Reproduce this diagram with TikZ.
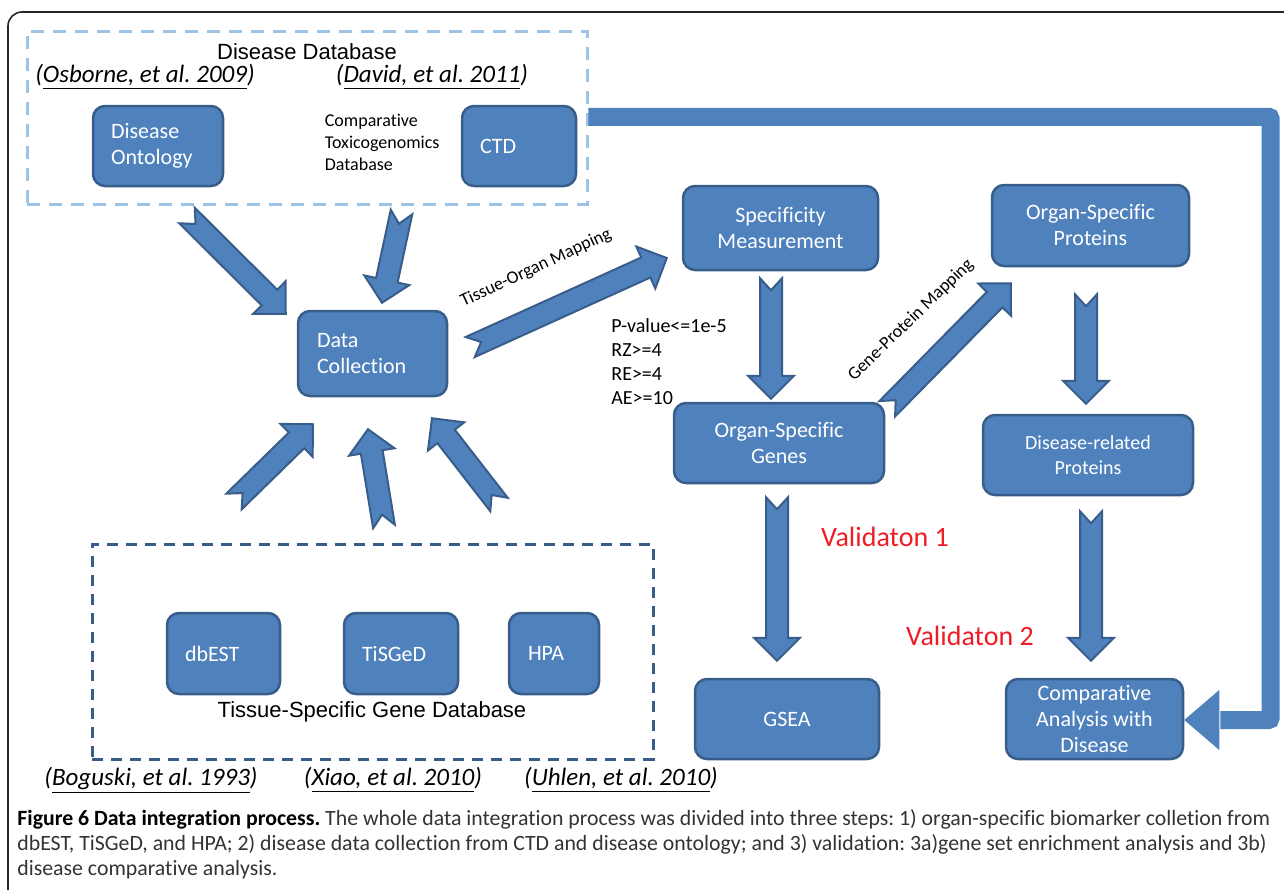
\documentclass[tikz,border=0pt]{standalone}
\usepackage{fontspec}
\setmainfont{Carlito}[Ligatures={NoCommon}]
\newfontfamily\arialfont{Liberation Sans}
\usetikzlibrary{calc,positioning}
\frenchspacing

\definecolor{boxfill}{HTML}{4F81BD}
\definecolor{boxline}{HTML}{385D8A}
\definecolor{lightdash}{HTML}{9DC3E6}
\definecolor{valred}{HTML}{EE1C25}

% notched block arrow from #1 (tail) to #2 (tip)
\newcommand{\fatarrow}[2]{%
	\coordinate (fab) at ($(#2)!11.5pt!(#1)$);
	\coordinate (fan) at ($(#1)!6pt!(#2)$);
	\draw[fatarr] ($(#1)!5.5pt!90:(#2)$) -- ($(fab)!5.5pt!-90:(#1)$)
		-- ($(fab)!11.5pt!-90:(#1)$) -- (#2)
		-- ($(fab)!11.5pt!90:(#1)$) -- ($(fab)!5.5pt!90:(#1)$)
		-- ($(#1)!5.5pt!-90:(#2)$) -- (fan) -- cycle;
}

\begin{document}
\begin{tikzpicture}[
		x=0.5pt,y=-0.5pt,
		box/.style={
			draw=boxline,
			fill=boxfill,
			line width=1.25pt,
			rounded corners=6pt,
			text=white,
			inner sep=0pt,
			font=\fontsize{11}{13}\selectfont
		},
		lbox/.style={box,align=left},
		cbox/.style={box,align=center},
		dbframe/.style={
			line width=1.5pt,
			inner sep=0pt
		},
		cite/.style={
			font=\itshape\fontsize{12.5}{15}\selectfont
		},
		maplabel/.style={
			font=\fontsize{9}{11}\selectfont,
			inner sep=0pt
		},
		valid/.style={
			text=valred,
			font=\fontsize{14}{16}\selectfont
		},
		fatarr/.style={
			draw=boxline,
			fill=boxfill,
			line width=1pt,
			line join=miter
		}
		]
		\useasboundingbox (0,0) rectangle (1284,889);
		\draw[black!85,line width=0.8pt,rounded corners=7pt] (8,12) rectangle (1320,930);

		% disease database
		\node[dbframe,draw=lightdash,dash pattern=on 6.5pt off 4.5pt,minimum width=280pt,minimum height=86.5pt] (ddb) at (307,117.5) {};
		\node[font=\arialfont\fontsize{11}{13}\selectfont] (ddbt) at (307,52) {Disease Database};
		\node[cite] (cosb) at (145,77) {(\underline{Osborne, et al. 2009})};
		\node[cite] (cdav) at (432,77) {(\underline{David, et al. 2011})};
		\node[lbox,minimum width=65pt,minimum height=40pt,text width=47pt] (dont) at (158,146) {Disease\\Ontology};
		\node[anchor=west,align=left,inner sep=0pt,font=\fontsize{9}{11}\selectfont] (ctdname) at (324.5,142.5) {Comparative\\Toxicogenomics\\Database};
		\node[lbox,minimum width=57pt,minimum height=40pt,text width=39pt] (ctd) at (519,146) {CTD};

		% tissue-specific gene database
		\node[dbframe,draw=boxline,dash pattern=on 5.5pt off 4pt,minimum width=280.5pt,minimum height=107.5pt] (tdb) at (372.5,651.5) {};
		\node[lbox,minimum width=56.5pt,minimum height=40.5pt,text width=38.5pt] (dbest) at (223.5,653.5) {dbEST};
		\node[lbox,minimum width=57pt,minimum height=40.5pt,text width=39pt] (tisged) at (401,653.5) {TiSGeD};
		\node[lbox,minimum width=45pt,minimum height=40.5pt,text width=26pt] (hpa) at (554,653.5) {HPA};
		\node[font=\arialfont\fontsize{11}{13}\selectfont] (tdbt) at (372,712) {Tissue-Specific Gene Database};
		\node[cite] (cbog) at (151,780) {(\underline{Boguski, et al. 1993})};
		\node[cite] (cxia) at (393,780) {(\underline{Xiao, et al. 2010})};
		\node[cite] (cuhl) at (621,780) {(\underline{Uhlen, et al. 2010})};

		% process
		\node[lbox,minimum width=74.5pt,minimum height=42.5pt,text width=55.5pt] (dc) at (372.5,353.5) {Data\\Collection};
		\node[cbox,minimum width=97.5pt,minimum height=42pt] (spec) at (780.5,228) {Specificity\\Measurement};
		\node[cbox,minimum width=98.5pt,minimum height=40.5pt] (osp) at (1090.5,225.5) {Organ-Specific\\Proteins};
		\node[cbox,minimum width=105pt,minimum height=40pt] (osg) at (779,443) {Organ-Specific\\Genes};
		\node[cbox,minimum width=105pt,minimum height=40pt,font=\fontsize{10}{12.5}\selectfont] (drp) at (1088,455) {Disease-related\\Proteins};
		\node[cbox,minimum width=92pt,minimum height=40pt] (gsea) at (787,719) {GSEA};
		\node[cbox,minimum width=88.5pt,minimum height=40pt] (cad) at (1094.5,719) {Comparative\\Analysis with\\Disease};

		\node[anchor=west,align=left,inner sep=0pt,font=\fontsize{10}{12}\selectfont] (crit) at (611,362) {P-value<=1e-5\\RZ>=4\\RE>=4\\AE>=10};
		\node[maplabel,rotate=25] (tom) at (536,268) {Tissue-Organ Mapping};
		\node[maplabel,rotate=44] (gpm) at (911,320) {Gene-Protein Mapping};
		\node[valid] (v1) at (885,537) {Validaton 1};
		\node[valid] (v2) at (970,636) {Validaton 2};

		% block arrows
		\coordinate (a1s) at ($(ddb.south)+(-120,10)$);
		\coordinate (a1e) at ($(dc.north west)+(-11,4)$);
		\coordinate (a2s) at ($(ddb.south)+(94.5,6.5)$);
		\coordinate (a2e) at ($(dc.north)+(9.5,-7)$);
		\coordinate (a3s) at ($(tdb.north)+(-138.5,-41)$);
		\coordinate (a3e) at ($(dc.south)+(-59.5,27)$);
		\coordinate (a4s) at ($(tdb.north)+(11.5,-16)$);
		\coordinate (a4e) at ($(dc.south)+(-4.5,32)$);
		\coordinate (a5s) at ($(tdb.north)+(126.5,-38)$);
		\coordinate (a5e) at ($(dc.south)+(59.5,21)$);
		\coordinate (a6s) at ($(dc.east)+(22,-6.5)$);
		\coordinate (a6e) at ($(spec.west)+(-15,30)$);
		\coordinate (a7s) at ($(spec.south)+(-9.5,7)$);
		\coordinate (a7e) at ($(osg.north)+(-8,-3)$);
		\coordinate (a8s) at ($(osg.north east)+(2,7)$);
		\coordinate (a8e) at ($(osp.south west)+(20,16)$);
		\coordinate (a9s) at ($(osp.south)+(-4.5,27)$);
		\coordinate (a9e) at ($(drp.north)+(-2,-10)$);
		\coordinate (a10s) at ($(osg.south)+(-2,13)$);
		\coordinate (a10e) at ($(gsea.north)+(-10,-17)$);
		\coordinate (a11s) at ($(drp.south)+(3,15)$);
		\coordinate (a11e) at ($(cad.north)+(-3.5,-17)$);
		\foreach \a in {1,...,11}
			\fatarrow{a\a s}{a\a e};

		% feedback from CTD to the comparative analysis
		\coordinate (fbturn) at (1270.5,720);
		\draw[boxfill,line width=9pt,rounded corners=1pt] ($(ctd.north east)+(11,12)$) -| (fbturn) -- ($(cad.east)+(36,1)$);
		\fill[boxfill] ($(cad.east)+(35,-29)$) -- ($(cad.east)+(0,1)$) -- ($(cad.east)+(35,31)$) -- cycle;

		% caption
		\node[anchor=west,align=left,inner sep=0pt,text=black!80,font=\fontsize{10.9}{12.5}\selectfont] (cap) at (17,844)
			{\textbf{\color{black}Figure 6 Data integration process.} The whole data integration process was divided into three steps: 1) organ-specific biomarker colletion from\\
			dbEST, TiSGeD, and HPA; 2) disease data collection from CTD and disease ontology; and 3) validation: 3a)gene set enrichment analysis and 3b)\\
			disease comparative analysis.};
\end{tikzpicture}
\end{document}
